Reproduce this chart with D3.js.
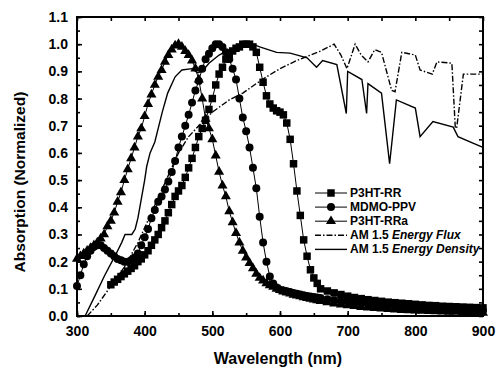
<!DOCTYPE html>
<html>
<head>
<meta charset="utf-8">
<script src="https://cdn.jsdelivr.net/npm/d3@7"></script>
<style>
  body { margin: 0; background: #fff; }
  text { font-family: "Liberation Sans", Arial, sans-serif; font-weight: bold; fill: #000; }
</style>
</head>
<body>
<script>
// wavelength grid for the polymer spectra (5 nm up to 660, then 10 nm)
const polyWl = d3.range(300, 661, 5).concat(d3.range(670, 901, 10));

// P3HT-RR (squares), starts at 350 nm
const p3htRR = [null, null, null, null, null, null, null, null, null, null,
  0.115, 0.125, 0.135, 0.145, 0.155, 0.165, 0.175, 0.185, 0.20, 0.21,
  0.225, 0.24, 0.26, 0.28, 0.30, 0.325, 0.35, 0.38, 0.41, 0.44,
  0.46, 0.48, 0.51, 0.545, 0.58, 0.62, 0.66, 0.69, 0.72, 0.76,
  0.80, 0.85, 0.89, 0.915, 0.945, 0.96, 0.975, 0.985, 0.99, 1.0,
  1.0, 1.0, 0.99, 0.97, 0.915, 0.86, 0.81, 0.78, 0.765, 0.755,
  0.75, 0.74, 0.71, 0.65, 0.56, 0.46, 0.37, 0.28, 0.22, 0.17,
  0.14, 0.12, 0.10,
  0.092, 0.085, 0.079, 0.073, 0.068, 0.064, 0.06, 0.057, 0.054, 0.051, 0.049, 0.047,
  0.045, 0.043, 0.041, 0.039, 0.038, 0.036, 0.035, 0.034, 0.033, 0.032, 0.031, 0.03];

// MDMO-PPV (circles)
const mdmoPPV = [0.11, 0.15, 0.19, 0.22, 0.24, 0.255, 0.26, 0.26, 0.25, 0.24,
  0.23, 0.22, 0.21, 0.205, 0.20, 0.20, 0.205, 0.215, 0.23, 0.26,
  0.29, 0.32, 0.36, 0.39, 0.42, 0.44, 0.465, 0.495, 0.53, 0.57,
  0.62, 0.66, 0.70, 0.74, 0.785, 0.83, 0.865, 0.91, 0.945, 0.965,
  0.985, 1.0, 1.0, 0.99, 0.97, 0.945, 0.91, 0.87, 0.80, 0.73,
  0.68, 0.62, 0.545, 0.47, 0.365, 0.27, 0.20, 0.145, 0.12, 0.105,
  0.097, 0.094, 0.091, 0.088, 0.085, 0.082, 0.079, 0.076, 0.074, 0.072,
  0.07, 0.068, 0.066,
  0.062, 0.058, 0.054, 0.051, 0.048, 0.045, 0.042, 0.04, 0.038, 0.036, 0.034, 0.032,
  0.031, 0.029, 0.028, 0.027, 0.026, 0.025, 0.024, 0.023, 0.022, 0.021, 0.02, 0.019];

// P3HT-RRa (triangles)
const p3htRRa = [0.21, 0.22, 0.23, 0.24, 0.25, 0.26, 0.27, 0.285, 0.30, 0.33,
  0.35, 0.38, 0.42, 0.455, 0.50, 0.54, 0.58, 0.62, 0.66, 0.69,
  0.735, 0.78, 0.815, 0.85, 0.88, 0.905, 0.935, 0.96, 0.98, 0.995,
  1.0, 0.99, 0.975, 0.96, 0.94, 0.91, 0.87, 0.80, 0.725, 0.69,
  0.65, 0.59, 0.53, 0.48, 0.44, 0.385, 0.345, 0.305, 0.27, 0.24,
  0.215, 0.195, 0.175, 0.155, 0.14, 0.13, 0.12, 0.113, 0.107, 0.10,
  0.095, 0.09, 0.086, 0.082, 0.078, 0.075, 0.072, 0.069, 0.066, 0.063,
  0.06, 0.058, 0.055,
  0.05, 0.046, 0.042, 0.039, 0.036, 0.033, 0.031, 0.029, 0.027, 0.025, 0.024, 0.022,
  0.021, 0.02, 0.019, 0.018, 0.017, 0.016, 0.015, 0.015, 0.014, 0.013, 0.013, 0.012];

// AM 1.5 energy flux (dash-dot)
const fluxWl = [315, 330, 350, 370, 390, 410, 430, 450, 465, 480, 500, 525, 545, 565, 580, 600, 625, 635, 645, 660,
  680, 690, 699, 711, 720, 730, 740, 750, 765, 770, 780, 800, 807, 825, 832, 854, 859, 861, 871, 885, 900];
const fluxVal = [0, 0.04, 0.11, 0.18, 0.27, 0.38, 0.49, 0.6, 0.66, 0.7, 0.75, 0.795, 0.82, 0.855, 0.88, 0.91, 0.94, 0.95, 0.96, 0.975,
  1.0, 0.96, 0.91, 1.0, 0.96, 0.935, 0.98, 0.97, 0.83, 0.825, 0.97, 0.96, 0.905, 0.89, 0.935, 0.93, 0.695, 0.69, 0.89, 0.89, 0.89];

// AM 1.5 energy density (solid)
const densWl = [312, 327, 341, 356, 366, 371, 381, 386, 390, 395, 400, 403, 408, 415, 420, 426, 434, 445, 455, 470,
  478, 485, 495, 510, 525, 545, 560, 570, 595, 615, 640, 654, 663, 684, 698, 700, 721, 728, 730, 750,
  762, 772, 800, 807, 826, 856, 863, 886, 900];
const densVal = [0, 0.077, 0.15, 0.22, 0.27, 0.3, 0.3, 0.32, 0.36, 0.43, 0.5, 0.55, 0.6, 0.64, 0.69, 0.75, 0.82, 0.88, 0.905, 0.91,
  0.895, 0.9, 0.93, 0.96, 0.98, 0.99, 1.0, 0.99, 0.97, 0.967, 0.95, 0.915, 0.94, 0.925, 0.745, 0.9, 0.87, 0.745, 0.855, 0.82,
  0.56, 0.795, 0.765, 0.66, 0.715, 0.695, 0.66, 0.635, 0.62];

const legendNames = ["P3HT-RR", "MDMO-PPV", "P3HT-RRa", "AM 1.5 Energy Flux", "AM 1.5 Energy Density"];
const xTicks = [300, 400, 500, 600, 700, 800, 900];
const yTicks = [0, 0.1, 0.2, 0.3, 0.4, 0.5, 0.6, 0.7, 0.8, 0.9, 1.0, 1.1];

let margin = {top: 17, bottom: 51, left: 77, right: 13};
let svgWidth = 496, svgHeight = 367;
let width = svgWidth - margin.left - margin.right;
let height = svgHeight - margin.top - margin.bottom;

let svg = d3.select("body").append("svg")
  .attr("width", svgWidth).attr("height", svgHeight);
let canvas = svg.append("g")
  .attr("transform", "translate(" + margin.left + "," + margin.top + ")");

let x = d3.scaleLinear().domain([300, 900]).range([0, width]);
let y = d3.scaleLinear().domain([0, 1.1]).range([height, 0]);

// polymer series
const polymers = [
  {name: legendNames[0], vals: p3htRR, sym: d3.symbolSquare, size: 56},
  {name: legendNames[1], vals: mdmoPPV, sym: d3.symbolCircle, size: 50},
  {name: legendNames[2], vals: p3htRRa, sym: d3.symbolTriangle, size: 44}
];
polymers.forEach(p => {
  p.pts = polyWl.map((w, i) => ({w: w, v: p.vals[i]})).filter(d => d.v != null);
});

let line = d3.line().x(d => x(d.w)).y(d => y(d.v));

// solar spectrum lines
canvas.append("path")
  .datum(fluxWl.map((w, i) => ({w: w, v: fluxVal[i]})))
  .attr("d", line)
  .attr("fill", "none").attr("stroke", "#000").attr("stroke-width", 1.4)
  .attr("stroke-dasharray", "6,2,1.5,2");
canvas.append("path")
  .datum(densWl.map((w, i) => ({w: w, v: densVal[i]})))
  .attr("d", line)
  .attr("fill", "none").attr("stroke", "#000").attr("stroke-width", 1.4);

polymers.forEach(p => {
  canvas.append("path").datum(p.pts).attr("d", line)
    .attr("fill", "none").attr("stroke", "#000").attr("stroke-width", 1);
  canvas.append("g").selectAll("path")
    .data(p.pts).enter().append("path")
      .attr("transform", d => "translate(" + x(d.w) + "," + y(d.v) + ")")
      .attr("d", d3.symbol().type(p.sym).size(p.size))
      .attr("fill", "#000");
});

// axes, ticks pointing inward
let minorX = d3.range(300, 901, 50);
let minorY = d3.range(0, 1.101, 0.05);

canvas.append("g").attr("transform", "translate(0," + height + ")")
  .call(d3.axisBottom(x).tickValues(minorX).tickSize(-3).tickFormat(""));
canvas.append("g").attr("transform", "translate(0," + height + ")")
  .call(d3.axisBottom(x).tickValues(xTicks).tickSize(-5).tickPadding(10).tickFormat(d3.format("d")));
canvas.append("g")
  .call(d3.axisTop(x).tickValues(minorX).tickSize(-4).tickFormat(""));
canvas.append("g")
  .call(d3.axisLeft(y).tickValues(minorY).tickSize(-3).tickFormat(""));
canvas.append("g")
  .call(d3.axisLeft(y).tickValues(yTicks).tickSize(-5).tickPadding(9).tickFormat(d3.format(".1f")));
canvas.append("g").attr("transform", "translate(" + width + ",0)")
  .call(d3.axisRight(y).tickValues(minorY).tickSize(-4).tickFormat(""));

canvas.selectAll(".domain").remove();
canvas.selectAll(".tick line").attr("stroke", "#000").attr("stroke-width", 1.6);
canvas.selectAll(".tick text")
  .style("font-size", "14px").style("font-family", "'Liberation Sans', Arial, sans-serif")
  .style("font-weight", "bold").attr("fill", "#000");

canvas.append("rect")
  .attr("width", width).attr("height", height)
  .attr("fill", "none").attr("stroke", "#000").attr("stroke-width", 2);

// axis titles
svg.append("text")
  .attr("x", margin.left + x(600) - 2).attr("y", 364)
  .attr("text-anchor", "middle").style("font-size", "16px")
  .text("Wavelength (nm)");
svg.append("text")
  .attr("transform", "translate(25," + (margin.top + y(0.5) + 2) + ") rotate(-90)")
  .attr("text-anchor", "middle").style("font-size", "15.5px")
  .text("Absorption (Normalized)");

// legend
let legend = svg.append("g").attr("transform", "translate(315,193)");
let rowH = 14.1;
polymers.forEach((p, i) => {
  let g = legend.append("g").attr("transform", "translate(0," + i * rowH + ")");
  g.append("line").attr("x1", 0).attr("x2", 32).attr("stroke", "#000").attr("stroke-width", 1);
  g.append("path").attr("transform", "translate(16,0)")
    .attr("d", d3.symbol().type(p.sym).size(p.size)).attr("fill", "#000");
});
legend.append("line").attr("x1", 0).attr("x2", 32)
  .attr("y1", 3 * rowH).attr("y2", 3 * rowH)
  .attr("stroke", "#000").attr("stroke-width", 1.4).attr("stroke-dasharray", "6,2,1.5,2");
legend.append("line").attr("x1", 0).attr("x2", 32)
  .attr("y1", 4 * rowH).attr("y2", 4 * rowH)
  .attr("stroke", "#000").attr("stroke-width", 1.4);

legendNames.forEach((n, i) => {
  let t = legend.append("text")
    .attr("x", 35).attr("y", i * rowH + 4)
    .style("font-size", "12px");
  if (i < 3) {
    t.text(n);
  } else {
    t.append("tspan").text("AM 1.5 ");
    t.append("tspan").style("font-style", "italic").text(n.replace("AM 1.5 ", ""));
  }
});
</script>
</body>
</html>
